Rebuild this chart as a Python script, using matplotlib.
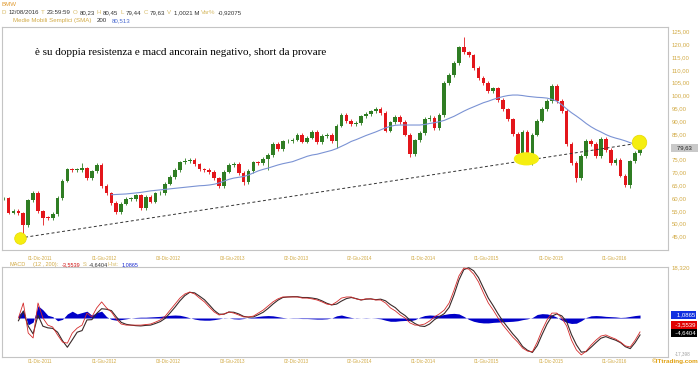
"""
BMW daily chart with SMA 200 and MACD panel (ITtrading style), rebuilt with matplotlib.
"""
import matplotlib
matplotlib.use('Agg')
import matplotlib.pyplot as plt
from matplotlib.patches import Ellipse
import numpy as np
import pandas as pd

# bi-weekly samples
dates = pd.date_range(end='2016-08-12', periods=131, freq='2W-FRI')

close = [60.1, 54.5, 55.3, 54.2, 49.5, 59.3, 62.1, 55.0, 52.5, 52.4,
         54.0, 60.3, 67.0, 71.4, 71.2, 71.2, 71.8, 68.0, 70.6, 73.0,
         64.8, 62.0, 58.2, 54.8, 58.0, 59.9, 59.9, 61.2, 56.4, 60.8,
         58.8, 62.0, 62.1, 65.8, 68.4, 71.2, 74.1, 74.6, 75.2, 73.3,
         71.4, 71.2, 70.3, 67.9, 64.8, 70.5, 73.1, 73.5, 70.0, 66.4,
         70.7, 74.1, 73.8, 75.6, 77.0, 81.3, 79.3, 82.3, 82.4, 83.0,
         85.0, 82.2, 83.8, 86.1, 82.0, 84.5, 84.9, 82.5, 88.5, 92.6,
         90.2, 89.0, 89.5, 92.1, 93.0, 94.0, 95.0, 93.5, 86.5, 89.7,
         92.0, 89.8, 85.0, 77.5, 82.7, 85.5, 91.0, 91.5, 87.5, 92.5,
         105.2, 108.3, 112.8, 119.0, 117.0, 115.9, 111.0, 107.0, 105.1, 101.9,
         103.0, 98.5, 94.8, 90.9, 85.1, 77.5, 86.0, 76.0, 85.0, 90.4,
         94.9, 98.0, 104.0, 98.0, 94.2, 81.3, 73.8, 68.0, 76.5, 82.4,
         81.3, 76.6, 83.3, 78.9, 73.9, 75.0, 69.0, 65.2, 74.5, 77.8,
         79.63]

# intraperiod extremes that poke out of the bodies (bar index, price)
spike_lo_idx = [4, 8, 23, 44, 49, 54, 68, 83, 105, 108, 117, 128]
spike_lo_val = [45.8, 49.7, 54.3, 64.6, 65.3, 71.2, 79.6, 76.4, 77.0, 73.1, 66.6, 64.0]
spike_hi_idx = [16, 19, 37, 55, 63, 69, 77, 87, 94, 112, 122]
spike_hi_val = [74.0, 73.8, 75.7, 81.6, 86.1, 93.3, 95.9, 92.6, 123.2, 104.4, 84.2]

sma200 = [np.nan] * 22 + [
    61.5, 61.6, 61.7, 61.8, 62.0, 62.2, 62.4, 62.7, 63.0, 63.2,
    63.4, 63.6, 63.8, 64.0, 64.2, 64.4, 64.6, 64.8, 65.0, 65.1,
    65.3, 65.6, 66.1, 66.8, 67.5, 68.0, 68.3, 68.6, 69.2, 70.0,
    70.8, 71.4, 71.9, 72.5, 73.1, 73.6, 74.0, 74.4, 75.1, 75.8,
    76.5, 77.0, 77.3, 77.8, 78.3, 78.8, 79.5, 80.4, 81.3, 82.3,
    83.0, 83.8, 84.6, 85.3, 86.0, 86.8, 87.6, 88.2, 88.6, 88.7,
    88.7, 88.7, 88.7, 88.7, 88.9, 89.3, 89.6, 90.0, 90.5, 91.3,
    92.1, 93.1, 94.1, 95.0, 95.8, 96.6, 97.4, 98.0, 98.7, 99.3,
    99.8, 100.2, 100.4, 100.4, 100.2, 99.9, 99.7, 99.5, 99.4, 99.2,
    98.7, 98.0, 96.6, 95.0, 93.5, 92.2, 90.8, 89.3, 88.0, 86.9,
    86.0, 85.0, 84.2, 83.6, 83.1, 82.5, 81.8, 81.1, 80.5]

macd = [np.nan] * 3 + [
    0.0, 5.5, -5.5, -7.3, 5.5, 0.0, -2.6, -3.3, -6.2, -8.8,
    -9.2, -5.5, -3.7, -2.6, 1.8, 0.4, 3.7, 5.9, 3.7, 2.2,
    -0.4, -2.2, -2.6, -2.6, -2.6, -2.6, -2.4, -2.2, -1.5, -0.7,
    0.7, 2.9, 5.1, 7.3, 8.8, 9.5, 8.8, 7.3, 5.9, 4.0,
    2.2, 1.1, 1.5, 2.2, 1.8, 1.1, 0.4, 0.4, 0.7, 1.8,
    2.9, 4.4, 5.9, 7.0, 7.7, 7.7, 7.7, 7.7, 7.3, 7.3,
    7.0, 6.6, 5.9, 5.1, 4.8, 5.9, 7.3, 7.7, 7.7, 7.0,
    6.6, 7.0, 7.0, 6.6, 6.6, 5.5, 3.7, 2.6, 1.1, 0.0,
    -1.8, -2.6, -2.6, -2.2, -1.1, 0.4, 1.5, 2.9, 5.5, 10.2,
    15.4, 18.3, 17.9, 16.1, 13.2, 9.2, 5.5, 2.9, 0.0, -2.6,
    -4.8, -7.0, -8.8, -11.0, -12.1, -12.4, -8.8, -4.4, -0.7, 1.8,
    1.8, 0.0, -2.9, -8.1, -11.7, -13.5, -12.1, -9.9, -8.1, -6.6,
    -6.2, -7.0, -7.7, -8.8, -10.2, -10.6, -8.1, -5.1]

hist = [np.nan] * 3 + [
    1.0, 3.0, -2.5, -1.5, 4.5, 3.0, 1.0, 0.5, -1.0, -0.5,
    1.5, 2.5, 1.5, 2.0, 2.5, 1.0, 2.0, 2.5, 0.5, -0.5,
    -0.8, -0.6, -0.3, 0.0, 0.2, 0.3, 0.3, 0.4, 0.5, 0.6,
    0.8, 1.0, 1.1, 1.0, 0.6, 0.1, -0.4, -0.7, -0.8, -0.8,
    -0.6, -0.3, 0.1, 0.0, -0.3, -0.4, -0.2, 0.1, 0.3, 0.6,
    0.8, 0.9, 0.8, 0.5, 0.2, 0.0, -0.1, -0.1, -0.2, -0.2,
    -0.3, -0.4, -0.4, -0.3, 0.0, 0.8, 1.1, 0.6, 0.2, -0.1,
    0.0, 0.1, 0.0, -0.1, -0.3, -0.8, -1.2, -1.2, -1.0, -0.9,
    -1.0, -0.6, 0.3, 0.9, 1.1, 1.0, 1.0, 1.3, 1.6, 1.7,
    1.5, 0.6, -0.5, -1.2, -1.6, -1.8, -1.8, -1.6, -1.5, -1.4,
    -1.3, -1.2, -1.0, -0.6, -0.3, 0.2, 1.3, 1.6, 1.5, 1.1,
    0.3, -0.8, -1.6, -2.0, -1.9, -1.0, 0.2, 0.8, 0.9, 0.8,
    0.6, 0.5, 0.4, 0.2, 0.3, 0.6, 0.9, 1.09]

# trend line and highlighted zones (date, price)
trend_dates = pd.to_datetime(['2011-10-04', '2016-08-16'])
trend_prices = [44.6, 81.8]
circle_pts = [(pd.Timestamp('2011-10-04'), 44.6), (pd.Timestamp('2016-08-08'), 82.1)]
ellipse_pt = (pd.Timestamp('2015-09-22'), 75.5)

tick_dates = pd.to_datetime(['2011-12-01', '2012-06-01', '2012-12-03', '2013-06-03', '2013-12-02',
                             '2014-06-02', '2014-12-01', '2015-06-01', '2015-12-01', '2016-06-01'])
tick_labels = ['01-Dic-2011', '01-Giu-2012', '03-Dic-2012', '03-Giu-2013', '02-Dic-2013',
               '02-Giu-2014', '01-Dic-2014', '01-Giu-2015', '01-Dic-2015', '01-Giu-2016']
price_ticks = [45, 50, 55, 60, 65, 70, 75, 85, 90, 95, 100, 105, 110, 115, 120, 125]

GOLD = '#d2aa45'
GRID = '#c4c4c4'
UP = '#2f7d23'
DOWN = '#e3161b'
FONT = 'Liberation Sans'

close = np.array(close)
opens = np.r_[close[0], close[:-1]]
lows = np.minimum(opens, close) - 0.7
highs = np.maximum(opens, close) + 0.7
lows[spike_lo_idx] = np.minimum(lows[spike_lo_idx], spike_lo_val)
highs[spike_hi_idx] = np.maximum(highs[spike_hi_idx], spike_hi_val)
macd = np.array(macd)
hist = np.array(hist)
signal = macd - hist

fig = plt.figure(figsize=(7.0, 3.65), dpi=100)
W, H = 700.0, 365.0
ax = fig.add_axes([2 / W, 1 - 250 / H, 666 / W, 223 / H])
axm = fig.add_axes([2 / W, 1 - 357 / H, 666 / W, 90 / H])

xmin = dates[0] - pd.Timedelta(days=5)
xmax = dates[-1] + pd.Timedelta(days=80)

# candles
xd = matplotlib.dates.date2num(dates)
cols = [UP if c >= o else DOWN for o, c in zip(opens, close)]
ax.vlines(xd, lows, highs, colors=cols, lw=0.6, zorder=2)
ax.bar(xd, np.maximum(np.abs(close - opens), 0.3), bottom=np.minimum(opens, close),
       width=10.5, color=cols, lw=0, zorder=3)

ax.plot(dates, sma200, color='#7b93d4', lw=0.8, zorder=4)
ax.plot(trend_dates, trend_prices, color='#333333', lw=0.7, ls=(0, (3, 2.5)), zorder=5)
for (d, p), s in zip(circle_pts, [70, 110]):
    ax.scatter(d, p, s=s, color='#f5ee10', edgecolor='#e8d800', lw=0.5, zorder=6)
ax.add_patch(Ellipse((matplotlib.dates.date2num(ellipse_pt[0]), ellipse_pt[1]),
                     width=68, height=4.6, color='#f5ee10', zorder=6))

ax.set_xlim(xmin, xmax)
ax.set_ylim(39.93, 126.95)
ax.set_xticks(tick_dates)
ax.set_xticklabels([])
ax.set_yticks([])
for s in ax.spines.values():
    s.set_color(GRID)
    s.set_linewidth(0.8)
ax.tick_params(length=0)

ax.text(0.049, 0.875, 'è su doppia resistenza e macd ancorain negativo, short da provare',
        transform=ax.transAxes, fontsize=8.0, family='Liberation Serif', color='black')

# right price scale
yt = ax.get_yaxis_transform()
for p in price_ticks:
    ax.text(1.006, p, f'{p:.2f}'.replace('.', ','), transform=yt,
            fontsize=4.3, color=GOLD, va='center', ha='left', family=FONT)
ax.text(1.006, close[-1], '   ' + f'{close[-1]:.2f}'.replace('.', ',') + '   ', transform=yt,
        fontsize=4.3, color='#222222', va='center', ha='left', family=FONT,
        bbox=dict(boxstyle='square,pad=0.25', fc='#c9c9c9', ec='none'))

# MACD panel
axm.fill_between(dates, 0, hist, color='#0000c8', lw=0, zorder=2)
axm.plot(dates, signal, color='#3a2a2a', lw=0.8, zorder=3)
axm.plot(dates, macd, color='#d42a2a', lw=0.6, zorder=4)
axm.set_xlim(xmin, xmax)
axm.set_ylim(-14.27, 18.67)
axm.set_xticks(tick_dates)
axm.set_xticklabels([])
axm.set_yticks([])
for s in axm.spines.values():
    s.set_color(GRID)
    s.set_linewidth(0.8)
axm.tick_params(length=0)

for d, lab in zip(tick_dates, tick_labels):
    for a in (ax, axm):
        a.text(d, -0.025, lab, transform=a.get_xaxis_transform(), fontsize=3.3,
               color=GOLD, ha='center', va='top', family=FONT)

ymt = axm.get_yaxis_transform()
axm.text(1.006, 18.32, '18,320', transform=ymt, fontsize=4.3, color=GOLD, va='center', family=FONT)
box_vals = [('1,0865', '#1030e0'), ('-3,5539', '#e00000'), ('-4,6404', '#000000')]
for (lab, col), y in zip(box_vals, [315, 325, 333]):
    fig.text(672 / W, 1 - y / H, f'{lab:>9}', fontsize=4.3, color='white', va='center', ha='left',
             family=FONT, bbox=dict(boxstyle='square,pad=0.2', fc=col, ec='none'))
fig.text(675 / W, 1 - 354 / H, '-17,398', fontsize=3.3, color='#a0a0a0', va='center', family=FONT)
fig.text(699 / W, 1 - 361 / H, '©ITtrading.com', fontsize=4.6, color='#e0a010', va='center',
         ha='right', family=FONT, weight='bold')


# header: coloured chunks, laid out one after another
def chunks(x, y, parts, size=4.4, gap=2.0):
    r = fig.canvas.get_renderer()
    for txt, col in parts:
        t = fig.text(x / W, 1 - y / H, txt, fontsize=size, color=col, va='center', family=FONT)
        x += t.get_window_extent(r).width + gap


LT = '#d8bd6a'
DK = '#333333'
chunks(2, 4, [('BMW', '#e09a30')])
chunks(2, 12.5, [('D', LT), ('12/08/2016', DK), ('T', LT), ('23:59:59', DK), ('O', LT), ('80,23', DK),
                 ('H', LT), ('80,45', DK), ('L', LT), ('79,44', DK), ('C', LT), ('79,63', DK),
                 ('V', LT), ('1,0021 M', DK), ('Var%', LT), ('-0,92075', DK)])
for txt, col, x in [('Medie Mobili Semplici (SMA)', GOLD, 13), ('200', DK, 97), ('80,513', '#4a6ad0', 112)]:
    fig.text(x / W, 1 - 20.5 / H, txt, fontsize=4.4, color=col, va='center', family=FONT)
for txt, col, x in [('MACD', GOLD, 10), ('(12 , 200):', GOLD, 33), ('-3,5539', '#d01010', 62),
                    ('S:', LT, 83), ('-4,6404', DK, 89), ('Hist:', LT, 108), ('1,0865', '#1a2ad0', 122)]:
    fig.text(x / W, 1 - 264.5 / H, txt, fontsize=4.0, color=col, va='center', family=FONT)

fig.savefig('out.png', dpi=100, facecolor='white')
